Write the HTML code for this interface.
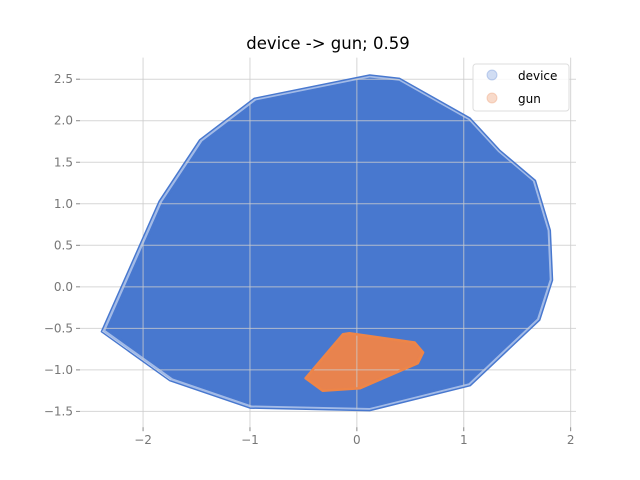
<!DOCTYPE html>
<html><head><meta charset="utf-8"><style>body{margin:0;background:#fff}svg{display:block;font-family:"DejaVu Sans","Liberation Sans",sans-serif}</style></head>
<body>
<svg id="chart" width="640" height="480">
<rect width="640" height="480" fill="#fff"/>
<g id="marks"></g><g id="grid"></g><g id="hulls"></g><g id="ticks"></g>
<text x="328" y="49" text-anchor="middle" font-size="16.5" fill="#000">device -&gt; gun; 0.59</text>
<g>
<rect x="473" y="64" width="96" height="47" rx="3" fill="#fff" fill-opacity="0.85" stroke="#ddd"/>
<circle cx="492" cy="75" r="5" fill="#4878cf" fill-opacity="0.25" stroke="#4878cf" stroke-opacity="0.3"/>
<text x="518" y="80" font-size="12">device</text>
<circle cx="492" cy="98" r="5" fill="#e8834e" fill-opacity="0.3" stroke="#e8834e" stroke-opacity="0.3"/>
<text x="518" y="103" font-size="12">gun</text>
</g>
</svg>
<script>
const xTicks=[-2,-1,0,1,2];
const yTicks=[-1.5,-1.0,-0.5,0.0,0.5,1.0,1.5,2.0,2.5];
const deviceHullX=[-2.39,-1.85,-1.47,-0.96,0.12,0.40,1.06,1.34,1.67,1.81,1.83,1.71,1.06,0.12,-1.00,-1.75];
const deviceHullY=[-0.54,1.03,1.77,2.27,2.55,2.51,2.03,1.64,1.28,0.68,0.08,-0.40,-1.19,-1.49,-1.46,-1.13];
const gunHullX=[-0.48,-0.13,-0.07,0.54,0.62,0.57,0.03,-0.32];
const gunHullY=[-1.10,-0.57,-0.56,-0.67,-0.79,-0.92,-1.22,-1.25];
const L=80,R=576,T=57.6,B=427.2,xmin=-2.59,xmax=2.05,ymin=-1.69,ymax=2.76;
const sx=v=>L+(v-xmin)/(xmax-xmin)*(R-L);
const sy=v=>B-(v-ymin)/(ymax-ymin)*(B-T);
const NS='http://www.w3.org/2000/svg';
function mk(t,a,p){const e=document.createElementNS(NS,t);for(const k in a)e.setAttribute(k,a[k]);p.appendChild(e);return e;}
const marks=document.getElementById('marks'),grid=document.getElementById('grid'),hulls=document.getElementById('hulls'),ticks=document.getElementById('ticks');
function pts(xs,ys,s){const cx=xs.reduce((a,b)=>a+b,0)/xs.length,cy=ys.reduce((a,b)=>a+b,0)/ys.length;
return xs.map((x,i)=>sx(cx+(x-cx)*s).toFixed(1)+','+sy(cy+(ys[i]-cy)*s).toFixed(1)).join(' ');}
const df=mk('polygon',{points:pts(deviceHullX,deviceHullY,0.985),fill:'#4878cf','stroke':'#4878cf','stroke-opacity':0.5,'stroke-width':5,'stroke-linejoin':'round'},marks);


const gf=mk('polygon',{points:pts(gunHullX,gunHullY,0.97),fill:'#e8834e',stroke:'#e8834e','stroke-width':3},marks);


const dp=mk('polygon',{points:pts(deviceHullX,deviceHullY,1),fill:'none',stroke:'#4878cf','stroke-width':1.5,'stroke-linejoin':'round'},hulls);


const gp=mk('polygon',{points:pts(gunHullX,gunHullY,1),fill:'none',stroke:'#ee8548','stroke-width':2.5,'stroke-linejoin':'round'},hulls);


xTicks.forEach(v=>{const x=sx(v);
const l=mk('line',{x1:x,x2:x,y1:T,y2:B,stroke:'#ccc','stroke-opacity':0.8,'stroke-width':1},grid);

mk('line',{x1:x,x2:x,y1:B,y2:B+4,stroke:'#888'},ticks);
const t=mk('text',{x:x,y:B+17,'text-anchor':'middle','font-size':12,fill:'#777'},ticks);t.textContent=v<0?'−'+Math.abs(v):String(v);
});
yTicks.forEach(v=>{const y=sy(v);
const l=mk('line',{x1:L,x2:R,y1:y,y2:y,stroke:'#ccc','stroke-opacity':0.8,'stroke-width':1},grid);

mk('line',{x1:L-4,x2:L,y1:y,y2:y,stroke:'#888'},ticks);
const t=mk('text',{x:L-7,y:y+4,'text-anchor':'end','font-size':12,fill:'#777'},ticks);t.textContent=(v<0?'−':'')+Math.abs(v).toFixed(1);
});
</script>
</body></html>
